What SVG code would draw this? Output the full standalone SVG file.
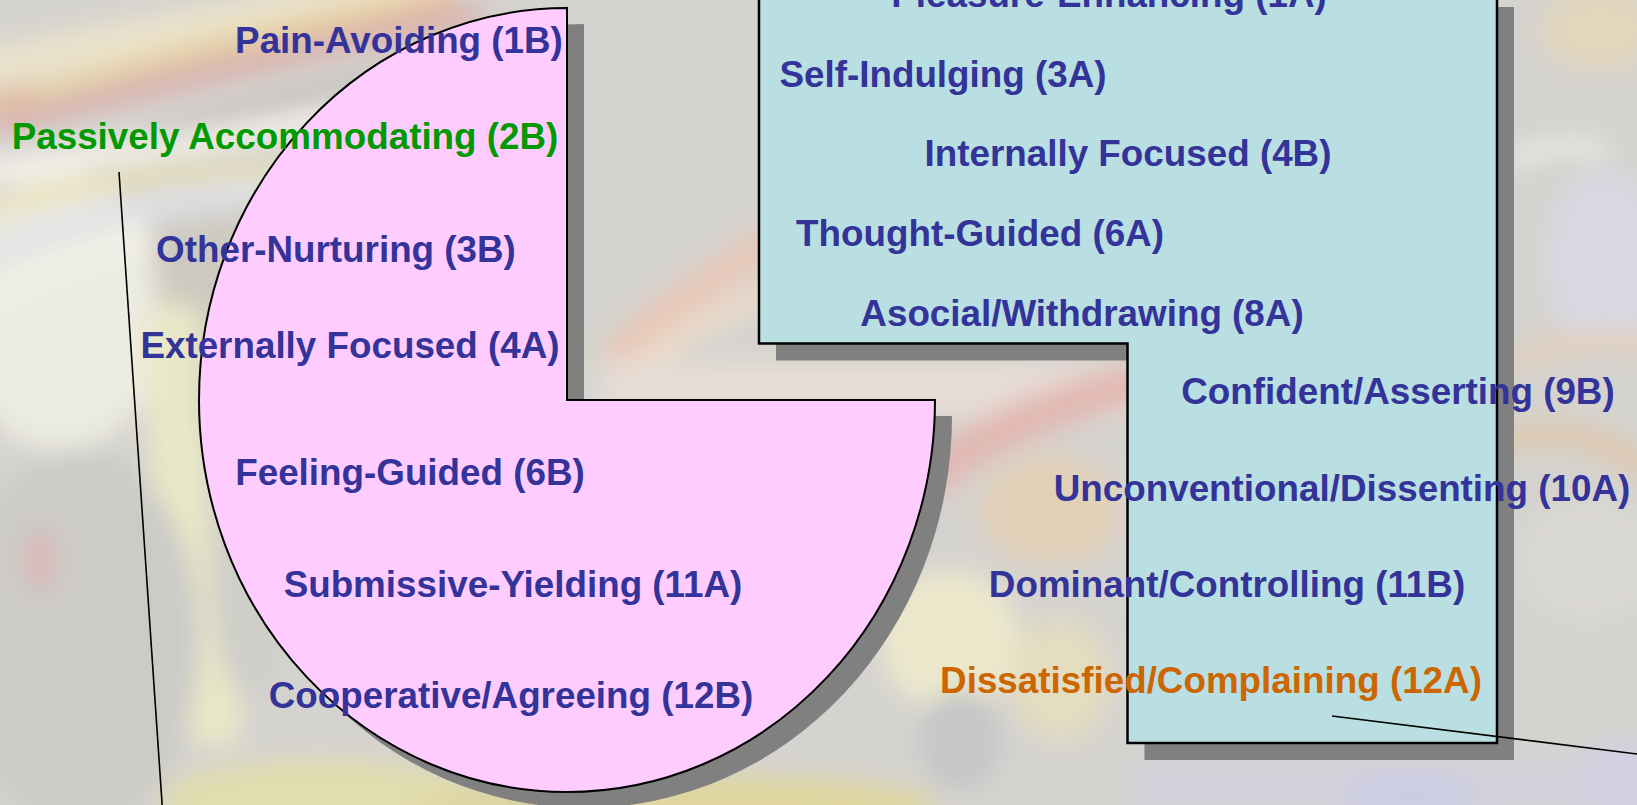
<svg xmlns="http://www.w3.org/2000/svg" width="1637" height="805" viewBox="0 0 1637 805">
  <defs>
    <filter id="soft" x="-10%" y="-10%" width="120%" height="120%">
      <feGaussianBlur stdDeviation="12"/>
    </filter>
    <style>
      .lbl { font-family: "Liberation Sans", Arial, Helvetica, sans-serif; font-weight: bold; font-size: 36.8px; text-anchor: middle; }
      .blue { fill: #333399; }
      .green { fill: #009900; }
      .orange { fill: #CC6600; }
      .shadow { fill: #808080; }
      .pink { fill: #FFCCFF; stroke: #000; stroke-width: 2; }
      .teal { fill: #B9DFE2; stroke: #000; stroke-width: 2.5; }
      .wire { stroke: #000; stroke-width: 1.6; fill: none; }
      .streak { fill: none; stroke-linecap: round; }
    </style>
  </defs>

  <!-- washed-out painted backdrop -->
  <g id="backdrop">
    <rect x="0" y="0" width="1637" height="805" fill="#d5d3cf"/>
    <g filter="url(#soft)">
      <!-- upper-left swirl of warm streaks -->
      <path class="streak" d="M-20,70 Q160,30 420,-10" stroke="#ebe2cc" stroke-width="40"/>
      <path class="streak" d="M-10,105 Q190,50 450,0" stroke="#e6b896" stroke-width="18"/>
      <path class="streak" d="M0,125 Q220,70 480,15" stroke="#dba3a0" stroke-width="14"/>
      <path class="streak" d="M40,90 Q200,40 400,0" stroke="#e6d9a6" stroke-width="12"/>
      <path class="streak" d="M140,140 Q280,95 470,60" stroke="#bbb7b3" stroke-width="12"/>
      <path class="streak" d="M-10,170 Q150,150 340,118" stroke="#f4f2ea" stroke-width="22"/>
      <ellipse cx="60" cy="310" rx="110" ry="140" fill="#ecebe0"/>
      <path class="streak" d="M-10,255 Q110,200 270,190" stroke="#dfe1e8" stroke-width="22"/>
      <path class="streak" d="M0,205 Q150,165 310,172" stroke="#e9dfa8" stroke-width="14"/>
      <path class="streak" d="M-10,300 Q100,240 230,230" stroke="#f4f3ec" stroke-width="18"/>
      <path d="M150,230 L270,215 L250,420 L170,430 Z" fill="#cdc9c0"/>
      <!-- pale yellow band hugging the left of the disc -->
      <path class="streak" d="M175,330 Q170,520 215,720" stroke="#e9e8c6" stroke-width="55"/>
      <!-- darker lower-left -->
      <ellipse cx="80" cy="640" rx="120" ry="190" fill="#cccbc8"/>
      <ellipse cx="250" cy="560" rx="40" ry="140" fill="#cfcec9"/>
      <ellipse cx="40" cy="560" rx="12" ry="30" fill="#dfb2b0"/>
      <ellipse cx="320" cy="800" rx="160" ry="40" fill="#e2ddae"/>
      <ellipse cx="680" cy="805" rx="260" ry="30" fill="#e0d69e"/>
      <ellipse cx="560" cy="795" rx="40" ry="20" fill="#c9c5b4"/>
      <!-- between the two panels -->
      <path class="streak" d="M620,350 Q690,290 775,240" stroke="#e8c8b8" stroke-width="34"/>
      <path class="streak" d="M640,365 Q700,320 775,290" stroke="#ecdccb" stroke-width="22"/>
      <rect x="600" y="362" width="540" height="55" fill="#e6ddd6"/>
      <path class="streak" d="M880,530 Q950,430 1130,385" stroke="#e3b8b2" stroke-width="40"/>
      <ellipse cx="1050" cy="510" rx="70" ry="55" fill="#e3d0b8"/>
      <ellipse cx="950" cy="640" rx="70" ry="70" fill="#ece8cc"/>
      <ellipse cx="960" cy="740" rx="40" ry="50" fill="#c4c6c8"/>
      <ellipse cx="1060" cy="680" rx="50" ry="60" fill="#e4ddc0"/>
      <!-- right margin -->
      <ellipse cx="1600" cy="30" rx="60" ry="40" fill="#e2d6bc"/>
      <path class="streak" d="M1510,160 Q1560,140 1600,150" stroke="#efeee8" stroke-width="14"/>
      <ellipse cx="1605" cy="260" rx="60" ry="90" fill="#d9d8e3"/>
      <path class="streak" d="M1520,360 Q1580,330 1650,345" stroke="#e6cdb4" stroke-width="16"/>
      <path class="streak" d="M1510,440 Q1580,420 1650,470" stroke="#dfc6aa" stroke-width="22"/>
      <ellipse cx="1590" cy="560" rx="70" ry="60" fill="#dad8d4"/>
      <rect x="1130" y="760" width="520" height="60" fill="#d3d1da"/>
      <ellipse cx="1410" cy="795" rx="70" ry="25" fill="#cccde4"/>
      <ellipse cx="1620" cy="780" rx="40" ry="40" fill="#d2d1e4"/>
    </g>
  </g>

  <!-- pink three-quarter disc -->
  <g id="pink-disc">
    <path class="shadow" transform="translate(17,16)" d="M567,8 L567,400 L935,400 A368,392 0 1 1 567,8 Z"/>
    <path class="pink" d="M567,8 L567,400 L935,400 A368,392 0 1 1 567,8 Z"/>
  </g>

  <!-- teal stepped panel -->
  <g id="teal-panel">
    <path class="shadow" transform="translate(17,17)" d="M759,-10 L1497,-10 L1497,743 L1127.5,743 L1127.5,343.5 L759,343.5 Z"/>
    <path class="teal" d="M759,-10 L1497,-10 L1497,743 L1127.5,743 L1127.5,343.5 L759,343.5 Z"/>
  </g>

  <!-- leader lines -->
  <g id="connectors">
    <line class="wire" x1="119" y1="172" x2="162.5" y2="810"/>
    <line class="wire" x1="1332" y1="716" x2="1645" y2="755"/>
  </g>

  <!-- labels on and around the disc -->
  <g id="label-1B"><text class="lbl blue" x="399" y="53">Pain-Avoiding (1B)</text></g>
  <g id="label-2B"><text class="lbl green" x="285" y="149">Passively Accommodating (2B)</text></g>
  <g id="label-3B"><text class="lbl blue" x="336" y="262">Other-Nurturing (3B)</text></g>
  <g id="label-4A"><text class="lbl blue" x="350" y="358">Externally Focused (4A)</text></g>
  <g id="label-6B"><text class="lbl blue" x="410" y="485">Feeling-Guided (6B)</text></g>
  <g id="label-11A"><text class="lbl blue" x="513" y="597">Submissive-Yielding (11A)</text></g>
  <g id="label-12B"><text class="lbl blue" x="511" y="708">Cooperative/Agreeing (12B)</text></g>

  <!-- labels on and around the panel -->
  <g id="label-1A"><text class="lbl blue" x="1109" y="7">Pleasure-Enhancing (1A)</text></g>
  <g id="label-3A"><text class="lbl blue" x="943" y="87">Self-Indulging (3A)</text></g>
  <g id="label-4B"><text class="lbl blue" x="1128" y="166">Internally Focused (4B)</text></g>
  <g id="label-6A"><text class="lbl blue" x="980" y="246">Thought-Guided (6A)</text></g>
  <g id="label-8A"><text class="lbl blue" x="1082" y="326">Asocial/Withdrawing (8A)</text></g>
  <g id="label-9B"><text class="lbl blue" x="1398" y="404">Confident/Asserting (9B)</text></g>
  <g id="label-10A"><text class="lbl blue" x="1342" y="501">Unconventional/Dissenting (10A)</text></g>
  <g id="label-11B"><text class="lbl blue" x="1227" y="597">Dominant/Controlling (11B)</text></g>
  <g id="label-12A"><text class="lbl orange" x="1211" y="693">Dissatisfied/Complaining (12A)</text></g>
</svg>
